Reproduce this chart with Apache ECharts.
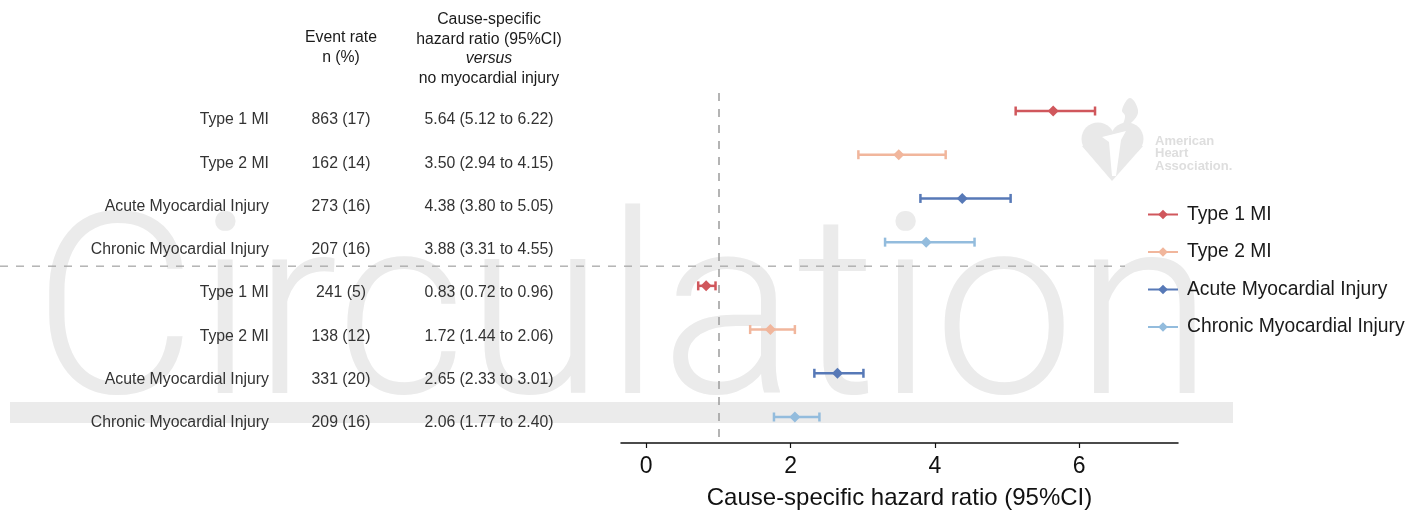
<!DOCTYPE html>
<html>
<head>
<meta charset="utf-8">
<script src="https://cdn.jsdelivr.net/npm/echarts@6/dist/echarts.min.js"></script>
<style>html,body{margin:0;padding:0;background:#fff}#c{width:1416px;height:517px}</style>
</head>
<body>
<div id="c"></div>
<script>
// ---- data ----
const types = ['Type 1 MI', 'Type 2 MI', 'Acute Myocardial Injury', 'Chronic Myocardial Injury'];
const rowLabels = ['Type 1 MI', 'Type 2 MI', 'Acute Myocardial Injury', 'Chronic Myocardial Injury',
                   'Type 1 MI', 'Type 2 MI', 'Acute Myocardial Injury', 'Chronic Myocardial Injury'];
const rowTypeIndex = [0, 1, 2, 3, 0, 1, 2, 3];
const eventRates = ['863 (17)', '162 (14)', '273 (16)', '207 (16)', '241 (5)', '138 (12)', '331 (20)', '209 (16)'];
const hrPoint = [5.64, 3.50, 4.38, 3.88, 0.83, 1.72, 2.65, 2.06];
const hrLow   = [5.12, 2.94, 3.80, 3.31, 0.72, 1.44, 2.33, 1.77];
const hrHigh  = [6.22, 4.15, 5.05, 4.55, 0.96, 2.06, 3.01, 2.40];
const xTicks = [0, 2, 4, 6];
const referenceHR = 1;
const headerEvent = ['Event rate', 'n (%)'];
const headerHR = ['Cause-specific', 'hazard ratio (95%CI)', 'versus', 'no myocardial injury'];
const axisTitle = 'Cause-specific hazard ratio (95%CI)';
const typeColors = ['#d0575c', '#f1b69c', '#5779b7', '#93bcdd'];

const FONT = '"Liberation Sans", Arial, Helvetica, sans-serif';
const chart = echarts.init(document.getElementById('c'), null, {renderer: 'canvas'});

const series = [];
types.forEach((t, k) => {
  const rows = rowTypeIndex.map((v, i) => v === k ? i : -1).filter(i => i >= 0);
  const s = {
    type: 'line', name: t, silent: true, animation: false,
    data: rows.map(i => [hrPoint[i], i]),
    symbol: 'diamond', symbolSize: 11, showSymbol: true,
    lineStyle: {opacity: 0},
    itemStyle: {color: typeColors[k]},
    z: 4
  };
  if (k === 0) {
    s.markLine = {
      silent: true, symbol: 'none', animation: false,
      label: {show: false},
      lineStyle: {type: [8, 8], color: '#9c9c9c', width: 1.5, opacity: 1},
      data: [{xAxis: referenceHR}]
    };
  }
  series.push(s);
});
types.forEach((t, k) => {
  const rows = rowTypeIndex.map((v, i) => v === k ? i : -1).filter(i => i >= 0);
  series.push({
    type: 'custom', name: t, silent: true, animation: false, z: 3,
    data: rows.map(i => [hrLow[i], hrHigh[i], i]),
    encode: {x: [0, 1], y: 2},
    renderItem: (params, api) => {
      const a = api.coord([api.value(0), api.value(2)]);
      const b = api.coord([api.value(1), api.value(2)]);
      const st = {stroke: typeColors[k], lineWidth: 2.5};
      const cap = 4.5;
      return {type: 'group', children: [
        {type: 'line', shape: {x1: a[0], y1: a[1], x2: b[0], y2: b[1]}, style: st},
        {type: 'line', shape: {x1: a[0], y1: a[1] - cap, x2: a[0], y2: a[1] + cap}, style: st},
        {type: 'line', shape: {x1: b[0], y1: b[1] - cap, x2: b[0], y2: b[1] + cap}, style: st}
      ]};
    }
  });
});

const option = {
  backgroundColor: '#ffffff',
  animation: false,
  grid: {left: 621, right: 238, top: 93, bottom: 74},
  xAxis: {
    type: 'value', min: -0.35, max: 7.37, position: 'bottom',
    axisLine: {show: true, onZero: false, lineStyle: {color: '#111', width: 1.5}},
    axisTick: {show: true, length: 5, customValues: xTicks, lineStyle: {color: '#111', width: 1.2}},
    axisLabel: {customValues: xTicks, fontSize: 23, color: '#111', margin: 12, fontFamily: FONT},
    splitLine: {show: false},
    name: axisTitle, nameLocation: 'middle', nameGap: 43,
    nameTextStyle: {fontSize: 24, color: '#111', fontFamily: FONT}
  },
  yAxis: {type: 'value', inverse: true, min: -0.412, max: 7.595, show: false},
  legend: {
    orient: 'vertical', left: 1142, top: 200,
    itemWidth: 30, itemHeight: 12, itemGap: 18.5,
    selectedMode: false,
    data: types,
    lineStyle: {opacity: 1, width: 2},
    textStyle: {fontSize: 19.3, color: '#1a1a1a', fontFamily: FONT, padding: [0, 0, 0, 4]}
  },
  series: series
};
chart.setOption(option);

// ---- table text and decorations positioned via the y scale ----
const rowY = rowLabels.map((_, i) => chart.convertToPixel({gridIndex: 0}, [0, i])[1]);
const sepY = chart.convertToPixel({gridIndex: 0}, [0, 3.55])[1];
const g = [];
// watermark
g.push({type: 'text', z: -10, silent: true, x: 33, y: 456,
  style: {text: 'Circulation', font: '300 252px Roboto', fill: '#ebebeb', align: 'left', verticalAlign: 'bottom'}});
g.push({type: 'rect', z: -10, silent: true, shape: {x: 10, y: 402, width: 1223, height: 21}, style: {fill: '#ebebeb'}});
// AHA logo
g.push({type: 'circle', z: -10, silent: true, shape: {cx: 1098, cy: 139, r: 16.5}, style: {fill: '#e9e9e9'}});
g.push({type: 'circle', z: -10, silent: true, shape: {cx: 1127, cy: 139, r: 16.5}, style: {fill: '#e9e9e9'}});
g.push({type: 'polygon', z: -10, silent: true, shape: {points: [[1082, 146], [1143, 146], [1112, 181]]}, style: {fill: '#e9e9e9'}});
g.push({type: 'polygon', z: -10, silent: true, shape: {points: [[1130, 98], [1138, 110], [1134, 120], [1123, 127], [1125, 116], [1122, 110]], smooth: 0.4}, style: {fill: '#e9e9e9'}});
g.push({type: 'polygon', z: -9, silent: true, shape: {points: [[1102, 137], [1126, 131], [1121, 140], [1116, 176], [1112, 176], [1109, 142]]}, style: {fill: '#ffffff'}});
['American', 'Heart', 'Association.'].forEach((t, i) => {
  g.push({type: 'text', z: -10, silent: true, x: 1155, y: 141 + i * 12.7,
    style: {text: t, font: 'bold 13px ' + FONT, fill: '#dedede', verticalAlign: 'middle'}});
});
// separator
g.push({type: 'line', z: 1, silent: true, shape: {x1: 0, y1: sepY, x2: 1125, y2: sepY},
  style: {stroke: '#a8a8a8', lineWidth: 1.3, lineDash: [8, 8]}});
// headers
headerEvent.forEach((t, i) => {
  g.push({type: 'text', z: 10, silent: true, x: 341, y: 38 + i * 19.5,
    style: {text: t, font: '15.8px ' + FONT, fill: '#1a1a1a', align: 'center', verticalAlign: 'middle'}});
});
headerHR.forEach((t, i) => {
  g.push({type: 'text', z: 10, silent: true, x: 489, y: 20 + i * 19.5,
    style: {text: t, font: (t === 'versus' ? 'italic ' : '') + '15.8px ' + FONT, fill: '#1a1a1a', align: 'center', verticalAlign: 'middle'}});
});
// rows
rowLabels.forEach((lab, i) => {
  const y = rowY[i] + 9 - i * 3 / 7;
  const hrText = hrPoint[i].toFixed(2) + ' (' + hrLow[i].toFixed(2) + ' to ' + hrHigh[i].toFixed(2) + ')';
  g.push({type: 'text', z: 10, silent: true, x: 269, y: y,
    style: {text: lab, font: '15.8px ' + FONT, fill: '#333', align: 'right', verticalAlign: 'middle'}});
  g.push({type: 'text', z: 10, silent: true, x: 341, y: y,
    style: {text: eventRates[i], font: '15.8px ' + FONT, fill: '#333', align: 'center', verticalAlign: 'middle'}});
  g.push({type: 'text', z: 10, silent: true, x: 489, y: y,
    style: {text: hrText, font: '15.8px ' + FONT, fill: '#333', align: 'center', verticalAlign: 'middle'}});
});
chart.setOption({graphic: g});
</script>
</body>
</html>
